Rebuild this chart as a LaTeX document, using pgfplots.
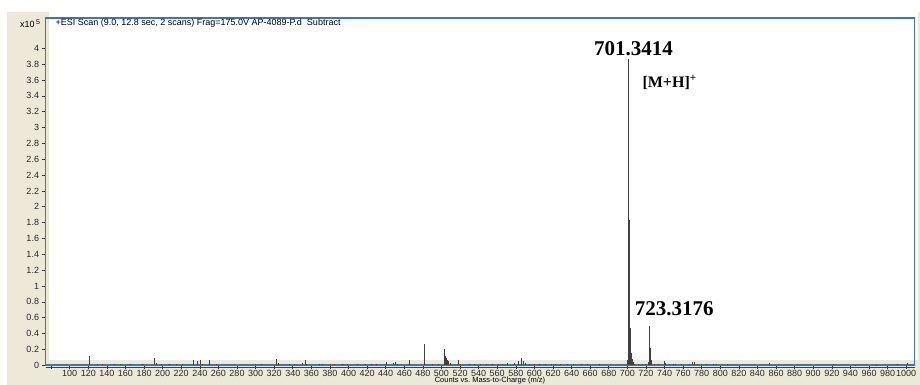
\documentclass[border=0pt]{standalone}
\usepackage{fontspec}
\setmainfont{Liberation Sans}
\newfontfamily\annfont{Liberation Serif}
\usepackage{pgfplots}
\pgfplotsset{compat=1.18}
\definecolor{panel}{HTML}{ECE9D8}
\definecolor{frameblue}{HTML}{3A72CC}
\definecolor{stick}{HTML}{404040}

% centroid sticks: m/z, counts (x 10^5)
\pgfplotstableread{
mz int
121.05 0.115
130 0.010
135 0.015
148 0.020
155 0.015
165 0.010
178 0.010
191 0.085
193 0.030
199 0.020
207 0.020
215 0.015
221 0.020
233 0.060
237 0.050
240 0.060
243 0.020
250 0.070
258 0.015
300 0.020
306 0.015
322 0.080
324 0.030
336 0.015
342 0.015
350 0.030
353 0.065
355 0.020
369 0.020
372 0.010
380 0.015
385 0.010
393 0.010
399 0.015
409 0.015
418 0.015
424 0.010
430 0.015
441 0.035
448 0.030
450 0.040
453 0.015
465 0.060
482 0.270
490 0.010
497 0.015
503.5 0.200
504.5 0.120
505.5 0.090
506.5 0.060
507.5 0.050
510 0.030
518 0.065
520 0.020
530 0.010
535 0.015
542 0.010
548 0.015
555 0.015
561 0.020
565 0.020
571 0.025
578 0.030
583 0.050
586 0.090
588 0.050
590 0.030
595 0.020
600 0.015
605 0.020
612 0.015
618 0.020
622 0.015
628 0.020
635 0.015
642 0.015
650 0.010
657 0.010
670 0.010
700.3 0.060
701.34 3.870
702.34 1.830
703.35 0.470
704.35 0.150
705.35 0.080
706.3 0.040
708 0.020
712 0.015
716 0.020
719 0.020
722.3 0.040
723.32 0.500
724.32 0.220
725.33 0.070
726.3 0.030
729 0.015
733 0.010
739.8 0.050
741 0.030
745 0.020
749 0.020
752 0.015
758 0.015
767 0.020
770 0.035
772 0.045
775 0.020
780 0.020
785 0.015
792 0.015
796 0.010
808 0.010
853 0.025
922 0.010
945 0.008
968 0.008
990 0.010
1001 0.025
}\spectrum

\begin{document}
\begin{tikzpicture}[x=1pt,y=1pt]
\useasboundingbox (0,0) rectangle (920,385);
\fill[panel] (7,0) rectangle (920,373);
\fill[white] (49,25) rectangle (918,373);
\begin{axis}[
  at={(49,25)}, anchor=south west,
  scale only axis, width=869pt, height=347pt,
  xmin=74, xmax=1009, ymin=0, ymax=4.38,
  clip=false,
  axis line style={draw=frameblue, line width=1.5pt},
  tick pos=left, tick align=outside,
  major tick length=4pt,
  tick style={black!80, line width=0.6pt},
  xtick={80,100,...,1000},
  ytick={0,0.2,...,4.01},
  xticklabel={\ifdim\tick pt<90pt\else\pgfmathprintnumber{\tick}\fi},
  /pgf/number format/.cd, fixed, precision=1, 1000 sep={}, assume math mode=true,
  /pgfplots/.cd,
  ticklabel style={font=\fontsize{9}{10}\selectfont, text=black!85},
  xticklabel style={yshift=2.8pt},
  yticklabel style={xshift=1pt},
]
\addplot[ycomb, no markers, draw=stick, line width=0.65pt] table[x=mz, y=int] {\spectrum};
\draw[black!75, line width=0.7pt] ([yshift=-2pt]rel axis cs:0,0) -- ([yshift=-2pt]rel axis cs:1,0);
\node[font=\annfont\bfseries\fontsize{21}{21}\selectfont] at (axis cs:706.5,3.99) {701.3414};
\node[anchor=west, font=\annfont\bfseries\fontsize{16}{16}\selectfont] at (axis cs:712.5,3.57) {[M+H]\textsuperscript{+}};
\node[font=\annfont\bfseries\fontsize{21}{21}\selectfont] at (axis cs:750.5,0.713) {723.3176};
\end{axis}
\node[anchor=west, font=\fontsize{9}{10}\selectfont] at (52,362) {+ESI Scan (9.0, 12.8 sec, 2 scans) Frag=175.0V AP-4089-P.d\ \ Subtract};
\node[anchor=west, font=\fontsize{9}{10}\selectfont, inner sep=0pt] at (20,361) {x10\,\raisebox{3pt}{\fontsize{7}{7}\selectfont 5}};
\node[anchor=south, font=\fontsize{7.5}{8}\selectfont, inner sep=0pt] at (490,0.6) {Counts vs.\ Mass-to-Charge (m/z)};
\end{tikzpicture}
\end{document}
